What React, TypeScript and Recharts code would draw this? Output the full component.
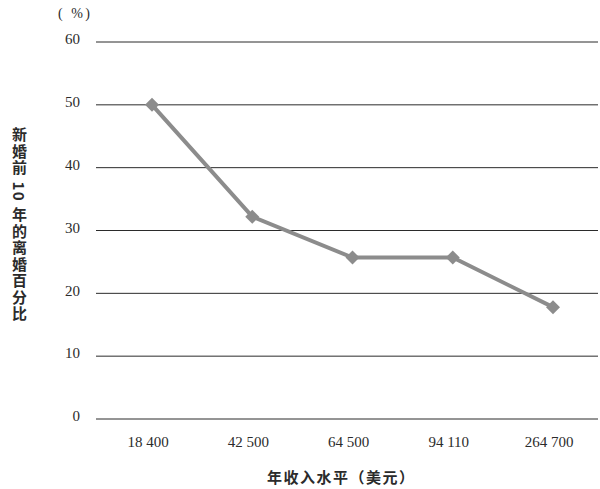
import { CartesianGrid, Line, LineChart, XAxis, YAxis } from "recharts";

const incomes = ["18 400", "42 500", "64 500", "94 110", "264 700"];
const divorcePct = [50, 32.2, 25.7, 25.7, 17.8];
const yTicks = [0, 10, 20, 30, 40, 50, 60];

const LINE = "#8c8c8c";
const INK = "#2b2b2b";
const SERIF = "'Liberation Serif', 'DejaVu Serif', serif";
const CJK = "'Noto Sans CJK SC', 'Noto Sans', sans-serif";

const data = incomes.map((name, i) => ({ name, v: divorcePct[i] }));

// diamond marker, same grey as the line
const Diamond = (props: any) => {
  const { cx, cy } = props;
  if (cx == null || cy == null) return null;
  const r = 7;
  return (
    <path d={`M${cx},${cy - r}L${cx + r},${cy}L${cx},${cy + r}L${cx - r},${cy}Z`} fill={LINE} />
  );
};

export default function App() {
  return (
    <div style={{ position: "absolute", left: 0, top: 0, width: 600, height: 489, background: "#fff" }}>
      <LineChart width={600} height={489} data={data} margin={{ top: 42, right: 2, bottom: 30, left: 0 }}>
        <CartesianGrid vertical={false} stroke={INK} strokeWidth={1} />
        <XAxis
          dataKey="name"
          axisLine={false}
          tickLine={false}
          tickSize={0}
          tickMargin={17}
          height={40}
          padding={{ left: 56, right: 45 }}
          tick={{ fontSize: 15, fill: INK, fontFamily: SERIF, dx: -4 }}
        />
        <YAxis
          domain={[0, 60]}
          ticks={yTicks}
          width={96}
          axisLine={false}
          tickLine={false}
          tickSize={0}
          tickMargin={16}
          tick={{ fontSize: 15, fill: INK, fontFamily: SERIF, dy: -3 }}
        />
        <Line
          type="linear"
          dataKey="v"
          stroke={LINE}
          strokeWidth={4}
          dot={<Diamond />}
          activeDot={false}
          isAnimationActive={false}
        />
      </LineChart>
      <div style={{ position: "absolute", left: 58, top: 6, fontFamily: SERIF, fontSize: 14, color: INK, letterSpacing: 2.5 }}>
        ( %)
      </div>
      <div
        style={{
          position: "absolute", left: 9, top: 127, writingMode: "vertical-rl",
          fontFamily: CJK, fontSize: 15, fontWeight: 700, color: INK, letterSpacing: 1.5,
        }}
      >
        新婚前 10 年的离婚百分比
      </div>
      <div
        style={{
          position: "absolute", left: 267, top: 466, fontFamily: CJK, fontSize: 15,
          fontWeight: 700, color: INK, letterSpacing: 1.5,
        }}
      >
        年收入水平（美元）
      </div>
    </div>
  );
}
